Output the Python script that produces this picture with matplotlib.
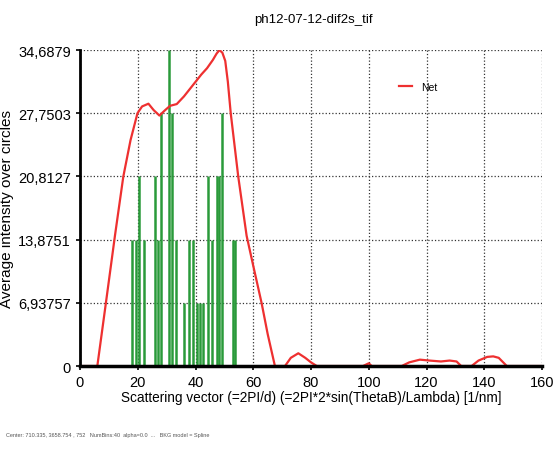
import matplotlib.pyplot as plt
import numpy as np

plt.rcParams["font.family"] = ["Liberation Sans", "DejaVu Sans"]

step = 6.93757
ytick_labels = ["0", "6,93757", "13,8751", "20,8127", "27,7503", "34,6879"]

# green histogram-like bars: position [1/nm] and level (multiples of step)
bar_x = [17.9, 19.4, 20.5, 22.3, 26.0, 27.1, 27.9, 30.7, 31.8, 33.2, 36.0, 37.9,
         39.0, 40.4, 41.6, 42.6, 44.4, 45.6, 47.3, 48.1, 49.1, 52.9, 53.7]
bar_lvl = [2, 2, 3, 2, 3, 2, 4, 5, 4, 2, 1, 2,
           2, 1, 1, 1, 3, 2, 3, 3, 4, 2, 2]

# red "Net" curve
net_x = [0, 6, 9, 12.1, 15, 17.5, 19.9, 21.5, 23.7, 25.5, 27.5, 29.5, 31.2, 33.5,
         36, 39, 42, 44, 46, 47.3, 48.3, 49.3, 50.3, 51.2, 52.2, 54.8, 57.7, 60,
         62.9, 65, 67.5, 71, 73, 75.6, 78, 80, 82, 98, 100, 101, 111.4, 114, 117.7,
         121, 125, 128, 130.4, 132, 135.6, 138, 141, 143.1, 145, 147.8, 160]
net_y = [0, 0, 7, 14.3, 20.8, 24.8, 27.75, 28.5, 28.8, 28.1, 27.5, 28.1, 28.57,
         28.76, 29.6, 30.8, 32.0, 32.7, 33.6, 34.3, 34.69, 34.4, 33.5, 31.2, 27.75,
         20.8, 14.3, 11.0, 6.9, 3.5, 0, 0, 0.9, 1.4, 0.9, 0.4, 0, 0, 0.3, 0, 0,
         0.4, 0.7, 0.6, 0.5, 0.6, 0.5, 0, 0, 0.6, 1.0, 1.06, 0.9, 0, 0]

fig = plt.figure(figsize=(5.54, 4.52), dpi=100)
ax = fig.add_axes([0.1444, 0.188, 0.834, 0.699])

ax.vlines(bar_x, 0, np.array(bar_lvl) * step, color="#2a9a3a", linewidth=1.8)
ax.plot(net_x, net_y, color="#ee3030", linewidth=1.6, label="Net")

ax.set_xlim(0, 160)
ax.set_ylim(0, 5 * step)
ax.set_xticks(range(0, 161, 20))
ax.set_yticks([i * step for i in range(6)])
ax.set_yticklabels(ytick_labels)
ax.tick_params(labelsize=10.5, length=3, width=1.2)
ax.grid(True, linestyle=":", color="#333333", linewidth=0.9)
ax.set_axisbelow(True)

for s in ["top", "right"]:
    ax.spines[s].set_visible(False)
ax.spines["left"].set_linewidth(2)
ax.spines["bottom"].set_linewidth(2.5)

ax.set_xlabel("Scattering vector (=2PI/d) (=2PI*2*sin(ThetaB)/Lambda) [1/nm]",
              fontsize=9.8, labelpad=1)
ax.set_ylabel("Average intensity over circles", fontsize=11, labelpad=3)
fig.text(0.565, 0.955, "ph12-07-12-dif2s_tif", ha="center", va="center", fontsize=9.5)

ax.legend(loc="upper left", bbox_to_anchor=(0.67, 0.93), frameon=False,
          fontsize=7.5, handlelength=1.3)

fig.text(0.01, 0.033, "Center: 710.335, 3658.754 , 752   NumBins:40  alpha=0.0  ...   BKG model = Spline",
         fontsize=4, color="#555555")

plt.savefig("out.png", dpi=100)
